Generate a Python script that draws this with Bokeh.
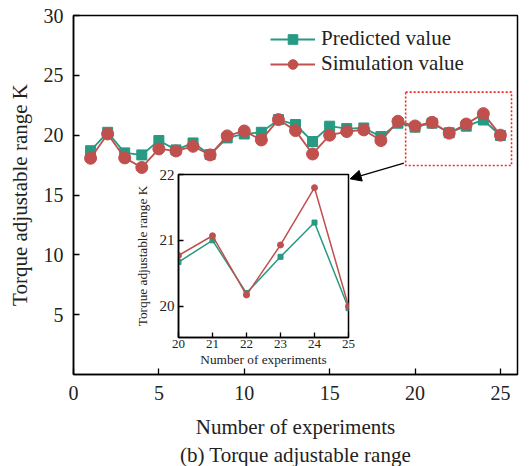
from bokeh.plotting import figure
from bokeh.models import (Range1d, FixedTicker, BoxAnnotation, Arrow,
                          NormalHead, Legend, LegendItem, Title)
from bokeh.layouts import column
from bokeh.embed import file_html
from bokeh.resources import INLINE

# ---------------- data ----------------
experiments = list(range(1, 26))
predicted = [18.70, 20.24, 18.52, 18.35, 19.55, 18.77, 19.35, 18.38, 19.77, 20.10,
             20.24, 21.30, 20.89, 19.47, 20.75, 20.55, 20.60, 19.88, 21.00, 20.67,
             21.00, 20.20, 20.75, 21.27, 19.97]
simulation = [18.07, 20.10, 18.10, 17.30, 18.85, 18.68, 19.07, 18.35, 19.94, 20.35,
              19.60, 21.30, 20.38, 18.43, 20.00, 20.30, 20.44, 19.55, 21.16, 20.77,
              21.07, 20.17, 20.93, 21.80, 20.00]
x_ticks = [0, 5, 10, 15, 20, 25]
y_ticks = [5, 10, 15, 20, 25, 30]
inset_x_ticks = [20, 21, 22, 23, 24, 25]
inset_y_ticks = [20, 21, 22]
series_names = ["Predicted value", "Simulation value"]
x_title = "Number of experiments"
y_title = "Torque adjustable range K"
caption = "(b) Torque adjustable range"

# zoomed part of the data
zx = [x for x in experiments if x >= inset_x_ticks[0]]
zp = predicted[len(experiments) - len(zx):]
zs = simulation[len(experiments) - len(zx):]

FONT = "Liberation Serif"
GREEN = "#269a82"
RED = "#c0504d"
TXT = "#222222"


def style_axis(ax, ticks, size, standoff, tick_len):
    ax.ticker = FixedTicker(ticks=ticks)
    ax.major_tick_in = tick_len
    ax.major_tick_out = 0
    ax.minor_tick_line_color = None
    ax.axis_line_width = 1.5
    ax.axis_line_color = "black"
    ax.major_tick_line_color = "black"
    ax.major_tick_line_width = 1.3
    ax.major_label_text_font = FONT
    ax.major_label_text_font_size = size
    ax.major_label_text_color = TXT
    ax.major_label_standoff = standoff
    ax.axis_label_text_font = FONT
    ax.axis_label_text_font_style = "normal"
    ax.axis_label_text_color = TXT


# ---------------- main figure ----------------
p = figure(frame_width=444, frame_height=359, x_range=Range1d(0, 26), y_range=Range1d(0, 30),
           output_backend="svg", toolbar_location=None,
           min_border_left=73, min_border_right=8, min_border_top=15, min_border_bottom=92)
p.grid.visible = False
p.outline_line_color = "black"
p.outline_line_width = 1.5
p.outline_line_alpha = 1
p.background_fill_color = "white"
p.border_fill_color = "white"

style_axis(p.xaxis[0], x_ticks, "20px", 11, 6)
style_axis(p.yaxis[0], y_ticks, "20px", 10, 6)
p.xaxis.axis_label = x_title
p.xaxis.axis_label_text_font_size = "21px"
p.xaxis.axis_label_standoff = 12
p.yaxis.axis_label = y_title
p.yaxis.axis_label_text_font_size = "21px"
p.yaxis.axis_label_standoff = 9

gl = p.line(experiments, predicted, color=GREEN, line_width=1.8)
gs = p.scatter(experiments, predicted, marker="square", size=10, color=GREEN)
rl = p.line(experiments, simulation, color=RED, line_width=1.8)
rs = p.scatter(experiments, simulation, marker="circle", size=12, color=RED)

legend = Legend(items=[LegendItem(label=series_names[0], renderers=[gl, gs]),
                       LegendItem(label=series_names[1], renderers=[rl, rs])],
                location=(197, 298), glyph_width=45, glyph_height=24, label_height=24,
                spacing=0, padding=0, margin=0, border_line_alpha=0,
                background_fill_alpha=0, label_text_font=FONT,
                label_text_font_size="21px", label_standoff=6,
                label_text_color=TXT)
p.add_layout(legend)

p.add_layout(Title(text=caption, align="center", text_font=FONT, text_font_size="21px",
                   text_font_style="normal", text_color=TXT, standoff=-2), "below")

# dotted box marking the zoomed region
box = BoxAnnotation(left=min(zx) - 0.55, right=max(zx) + 0.65,
                    bottom=min(zp + zs) - 2.5, top=max(zp + zs) + 1.8,
                    fill_alpha=0, line_color="#f02828", line_alpha=1,
                    line_dash="2 2", line_width=1.6)
p.add_layout(box)
p.add_layout(Arrow(end=NormalHead(size=11, fill_color="black", line_color="black"),
                   x_start=min(zx) - 0.65, y_start=min(zp + zs) - 2.3,
                   x_end=16.2, y_end=16.35, line_width=1.3, line_color="black"))

# ---------------- inset figure ----------------
inset = figure(frame_width=170, frame_height=163, x_range=Range1d(20, 25),
               y_range=Range1d(19.525, 22), output_backend="svg", toolbar_location=None,
               min_border_left=73, min_border_right=8, min_border_top=10, min_border_bottom=32)
inset.grid.visible = False
inset.outline_line_color = "black"
inset.outline_line_width = 1.5
inset.outline_line_alpha = 1
inset.background_fill_color = "white"
inset.border_fill_alpha = 0
style_axis(inset.xaxis[0], inset_x_ticks, "13px", 2, 5)
style_axis(inset.yaxis[0], inset_y_ticks, "15px", 4, 5)
inset.xaxis.axis_label = x_title
inset.xaxis.axis_label_text_font_size = "13.3px"
inset.xaxis.axis_label_standoff = 1
inset.yaxis.axis_label = y_title
inset.yaxis.axis_label_text_font_size = "13.3px"
inset.yaxis.axis_label_standoff = 7

inset.line(zx, zp, color=GREEN, line_width=1.5)
inset.scatter(zx, zp, marker="square", size=5, color=GREEN)
inset.line(zx, zs, color=RED, line_width=1.5)
inset.scatter(zx, zs, marker="circle", size=6, color=RED)

inset.margin = (-302, 0, 97, 105)
p.margin = (0, 0, 0, 0)

layout = column(p, inset, spacing=0)
open("out.html", "w").write(file_html(layout, INLINE))
